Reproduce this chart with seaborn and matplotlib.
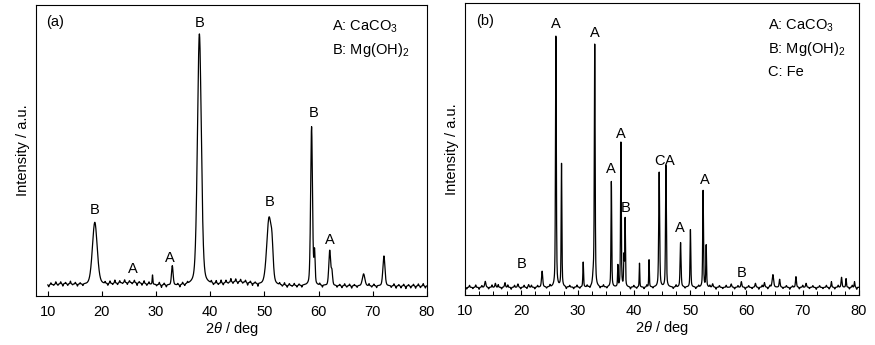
import numpy as np
import pandas as pd
import matplotlib
matplotlib.use("Agg")
import matplotlib.pyplot as plt
import seaborn as sns

# ---------------- data ----------------
# Panel (a): peak positions (deg), heights (a.u.), FWHM (deg)
peak_a_pos = [18.7, 29.35, 33.0, 38.0, 50.85, 51.4, 58.7, 59.25, 62.05, 62.45, 68.3, 72.05,
              13.0, 25.0, 45.0]
peak_a_hgt = [188, 28, 58, 755, 200, 70, 476, 95, 105, 40, 36, 90,
              6, 10, 12]
peak_a_fwhm = [1.05, 0.15, 0.35, 0.85, 1.0, 0.5, 0.4, 0.25, 0.4, 0.3, 0.55, 0.45,
               6.0, 8.0, 6.0]
# Panel (a): baseline wiggles
noise_a_pos = [10.2, 10.6, 11.1, 11.5, 11.9, 12.4, 12.8, 13.3, 13.7, 14.2, 14.6, 15.1, 15.5, 16.0, 16.5,
               20.6, 21.1, 21.5, 22.0, 22.4, 22.9, 23.3, 23.8, 24.2, 24.7, 25.1, 25.6, 26.0, 26.5,
               26.9, 27.4, 27.8, 28.3, 28.7, 30.1, 30.6, 31.0, 31.5, 31.9, 34.0, 34.4, 34.9, 35.3,
               35.8, 40.2, 40.6, 41.1, 41.5, 42.0, 42.4, 42.9, 43.3, 43.8, 44.2, 44.7, 45.1, 45.6,
               46.0, 46.5, 46.9, 47.4, 47.8, 48.3, 48.8, 52.8, 53.3, 53.7, 54.2, 54.6, 55.1, 55.5,
               56.0, 56.4, 56.9, 60.2, 60.7, 63.4, 63.9, 64.3, 64.8, 65.2, 65.7, 66.1, 66.6, 67.1,
               69.3, 69.8, 70.2, 70.7, 73.4, 73.9, 74.3, 74.8, 75.2, 75.7, 76.1, 76.6, 77.0, 77.5,
               77.9, 78.4, 78.8, 79.3, 79.7]
noise_a_hgt = [-6, 5, -3, 7, -4, 6, -7, 4, -5, 8, -3, 5, -6, 4, -5,
               5, -6, 7, -4, 9, -5, 6, -3, 8, -6, 5, -4, 7, -8,
               4, -6, 8, -5, 6, -4, 7, -8, 5, -6, 4, -7, 6, -5,
               5, 6, -5, 8, -4, 9, -6, 7, -3, 10, -5, 8, -6, 7,
               -4, 6, -8, 5, -7, 4, -9, 5, -4, 7, -6, 5, -3, 6,
               -5, 4, -6, 5, -6, -5, 4, -6, 6, -4, 5, -7, 4, -5,
               6, -4, 5, -6, -5, 6, -7, 4, -6, 5, -8, 4, -6, 5,
               -7, 6, -5, 7, -6]

label_a_txt = ["B", "A", "A", "B", "B", "B", "A"]
label_a_x = [18.7, 25.7, 32.6, 38.0, 50.9, 59.1, 62.0]
label_a_y = [228, 52, 85, 790, 251, 520, 138]

# Panel (b)
peak_b_pos = [13.6, 23.7, 26.15, 27.15, 31.0, 32.8, 33.05, 36.0, 37.15, 37.7, 38.25, 38.45,
              41.0, 42.7, 44.5, 45.7, 48.3, 50.05, 52.3, 52.85, 59.1, 64.7, 65.9, 68.8,
              75.1, 76.9, 77.7, 79.2, 61.6, 63.2, 70.6, 57.3, 54.0, 15.4, 17.1, 19.4, 21.3]
peak_b_hgt = [18, 48, 762, 375, 75, 30, 732, 317, 65, 434, 90, 205,
              72, 82, 345, 365, 134, 175, 290, 127, 17, 38, 24, 32,
              17, 30, 26, 17, 12, 14, 12, 10, 10, 12, 14, 10, 8]
peak_b_fwhm = [0.25, 0.25, 0.17, 0.15, 0.15, 0.3, 0.17, 0.15, 0.12, 0.15, 0.15, 0.13,
               0.12, 0.13, 0.2, 0.17, 0.2, 0.16, 0.16, 0.15, 0.2, 0.3, 0.2, 0.2,
               0.15, 0.2, 0.15, 0.15, 0.2, 0.2, 0.2, 0.2, 0.2, 0.2, 0.2, 0.2, 0.2]
noise_b_pos = [10.3, 10.8, 11.4, 11.9, 12.5, 13.0, 14.2, 14.8, 15.9, 16.5, 17.6, 18.2, 18.8,
               19.9, 20.5, 21.0, 21.8, 22.4, 22.9, 24.5, 25.1, 28.0, 28.6, 29.3, 29.9, 30.4,
               31.7, 32.2, 34.0, 34.6, 35.2, 39.4, 40.0, 40.5, 41.8, 42.3, 43.4, 47.0, 47.5,
               49.1, 51.0, 51.5, 53.5, 54.6, 55.2, 55.8, 56.4, 57.9, 58.5, 59.8, 60.4, 61.0,
               62.2, 62.8, 63.8, 64.2, 66.5, 67.1, 67.7, 68.2, 69.4, 70.0, 71.2, 71.8, 72.4,
               73.0, 73.6, 74.2, 74.7, 75.7, 76.3, 78.3, 78.8, 79.6]
noise_b_hgt = [-5, 6, -4, 7, -6, 5, -5, 7, 8, -5, 7, -6, 6,
               -5, 6, -4, 6, -5, 5, -4, 6, -6, 5, -5, 6, -4,
               5, -5, -5, 6, -4, -6, 5, -4, -5, 6, -4, -5, 6,
               -4, -5, 5, 5, -6, 5, -4, 6, -5, 5, -6, 5, -4,
               -6, 6, -5, 5, -4, 5, -6, 4, -5, 6, -4, 5, -6,
               5, -4, 6, -5, -5, 6, -5, 6, -6]

label_b_txt = ["B", "A", "A", "A", "A", "B", "C", "A", "A", "A", "B"]
label_b_x = [20.0, 26.2, 33.1, 36.0, 37.7, 38.55, 44.5, 46.45, 48.2, 52.7, 59.1]
label_b_y = [69, 792, 765, 355, 462, 239, 379, 379, 179, 321, 42]

legend_a = ["A: CaCO$_3$", "B: Mg(OH)$_2$"]
legend_b = ["A: CaCO$_3$", "B: Mg(OH)$_2$", "C: Fe"]
x_ticks = [10, 20, 30, 40, 50, 60, 70, 80]


# ---------------- helpers ----------------
def profile(x, pos, hgt, fwhm, eta):
    y = np.zeros_like(x)
    for p, h, w in zip(pos, hgt, fwhm):
        g = np.exp(-4 * np.log(2) * ((x - p) / w) ** 2)
        l = 1.0 / (1.0 + (2 * (x - p) / w) ** 2)
        y += h * ((1 - eta) * g + eta * l)
    return y


def spectrum(x, pos, hgt, fwhm, eta, npos, nhgt, nw):
    y = profile(x, pos, hgt, fwhm, eta)
    y += profile(x, npos, nhgt, [nw] * len(npos), 0.0)
    return y


sns.set_style("ticks")
plt.rcParams["font.family"] = ["Liberation Sans", "DejaVu Sans"]
plt.rcParams["mathtext.fontset"] = "custom"
plt.rcParams["mathtext.rm"] = "Liberation Sans"
plt.rcParams["mathtext.it"] = "Liberation Sans:italic"
plt.rcParams["text.color"] = "black"
plt.rcParams["axes.labelcolor"] = "black"
plt.rcParams["xtick.color"] = "black"
plt.rcParams["xtick.labelcolor"] = "black"

fig = plt.figure(figsize=(8.75, 3.45), dpi=100)
ax_a = fig.add_axes([36 / 875, 1 - 296 / 345, (427 - 36) / 875, (296 - 5) / 345])
ax_b = fig.add_axes([465 / 875, 1 - 295 / 345, (859 - 465) / 875, (295 - 3) / 345])

xa = np.arange(10.0, 80.0001, 0.02)
ya = spectrum(xa, peak_a_pos, peak_a_hgt, peak_a_fwhm, 0.3, noise_a_pos, noise_a_hgt, 0.16)
xb = np.arange(10.0, 80.0001, 0.02)
yb = spectrum(xb, peak_b_pos, peak_b_hgt, peak_b_fwhm, 0.5, noise_b_pos, noise_b_hgt, 0.16)

df_a = pd.DataFrame({"x": xa, "y": ya})
df_b = pd.DataFrame({"x": xb, "y": yb})

sns.lineplot(data=df_a, x="x", y="y", ax=ax_a, color="black", linewidth=0.9)
sns.lineplot(data=df_b, x="x", y="y", ax=ax_b, color="black", linewidth=0.9)

fs = 10.5
for ax, xlim, ylim in [(ax_a, (7.85, 80), (-30, 843)), (ax_b, (10, 80), (-23, 854))]:
    ax.set_xlim(*xlim)
    ax.set_ylim(*ylim)
    ax.set_xticks(x_ticks)
    ax.set_xticklabels([str(t) for t in x_ticks], fontsize=10.5)
    ax.set_yticks([])
    ax.tick_params(axis="x", direction="in", length=3.5, width=0.8, pad=6.5, colors="black")
    ax.set_xlabel("2$\\it{\\theta}$ / deg", fontsize=fs, labelpad=1)
    ax.set_ylabel("Intensity / a.u.", fontsize=fs, labelpad=4)
    for s in ax.spines.values():
        s.set_visible(True)
        s.set_linewidth(0.8)
        s.set_color("black")

ax_b.set_xticks(np.arange(12.5, 80, 2.5), minor=True)
ax_b.tick_params(axis="x", which="minor", direction="in", length=3, width=0.7, colors="black")

for t, x, y in zip(label_a_txt, label_a_x, label_a_y):
    ax_a.text(x, y, t, ha="center", va="center", fontsize=fs)
for t, x, y in zip(label_b_txt, label_b_x, label_b_y):
    ax_b.text(x, y, t, ha="center", va="center", fontsize=fs)

ax_a.text(0.025, 0.94, "(a)", transform=ax_a.transAxes, ha="left", va="center", fontsize=fs)
ax_b.text(0.027, 0.94, "(b)", transform=ax_b.transAxes, ha="left", va="center", fontsize=fs)

for i, t in enumerate(legend_a):
    ax_a.text(0.757, 0.925 - i * 0.08, t, transform=ax_a.transAxes, ha="left", va="center", fontsize=fs)
for i, t in enumerate(legend_b):
    ax_b.text(0.77, 0.922 - i * 0.08, t, transform=ax_b.transAxes, ha="left", va="center", fontsize=fs)

fig.savefig("out.png", dpi=100)
